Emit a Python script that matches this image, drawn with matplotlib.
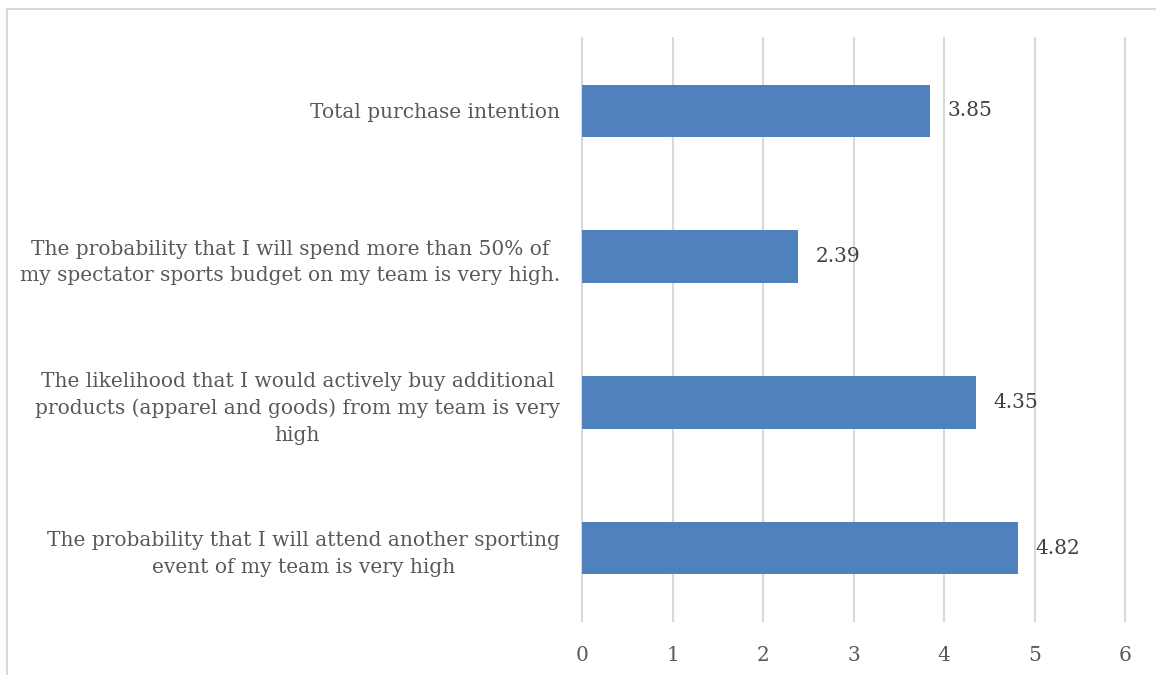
import matplotlib.pyplot as plt
from matplotlib.patches import Rectangle

categories = [
    "The probability that I will attend another sporting\nevent of my team is very high",
    "The likelihood that I would actively buy additional\nproducts (apparel and goods) from my team is very\nhigh",
    "The probability that I will spend more than 50% of\nmy spectator sports budget on my team is very high.",
    "Total purchase intention",
]
values = [4.82, 4.35, 2.39, 3.85]
x_ticks = [0, 1, 2, 3, 4, 5, 6]

plt.rcParams["font.family"] = ["DejaVu Serif"]

fig = plt.figure(figsize=(11.56, 6.75), dpi=100)
ax = fig.add_axes([0.5035, 0.08, 0.4697, 0.8637])

ax.barh(range(len(values)), values, height=0.36, color="#4f81bd", zorder=3)
for i, v in enumerate(values):
    ax.text(v + 0.19, i, "%.2f" % v, va="center", ha="left",
            fontsize=14.5, color="#404040")

ax.set_xlim(0, 6)
ax.set_ylim(-0.5, len(values) - 0.5)
ax.set_xticks(x_ticks)
ax.set_yticks(range(len(categories)))
ax.set_yticklabels(categories, ha="right", multialignment="center",
                   linespacing=1.5)
ax.tick_params(axis="y", length=0, pad=16, labelsize=14.5, labelcolor="#595959")
ax.tick_params(axis="x", length=0, pad=18, labelsize=14.5, labelcolor="#595959")
ax.grid(axis="x", color="#d9d9d9", linewidth=1.5, zorder=0)
for gl in ax.xaxis.get_gridlines():
    gl.set_clip_on(False)
for s in ax.spines.values():
    s.set_visible(False)

# light chart-area border
fig.patches.append(Rectangle((7 / 1156, -0.1), 1.2, 1 - 9 / 675 + 0.1,
                             transform=fig.transFigure, fill=False,
                             edgecolor="#d9d9d9", linewidth=1.5))

fig.savefig("out.png", dpi=100)
